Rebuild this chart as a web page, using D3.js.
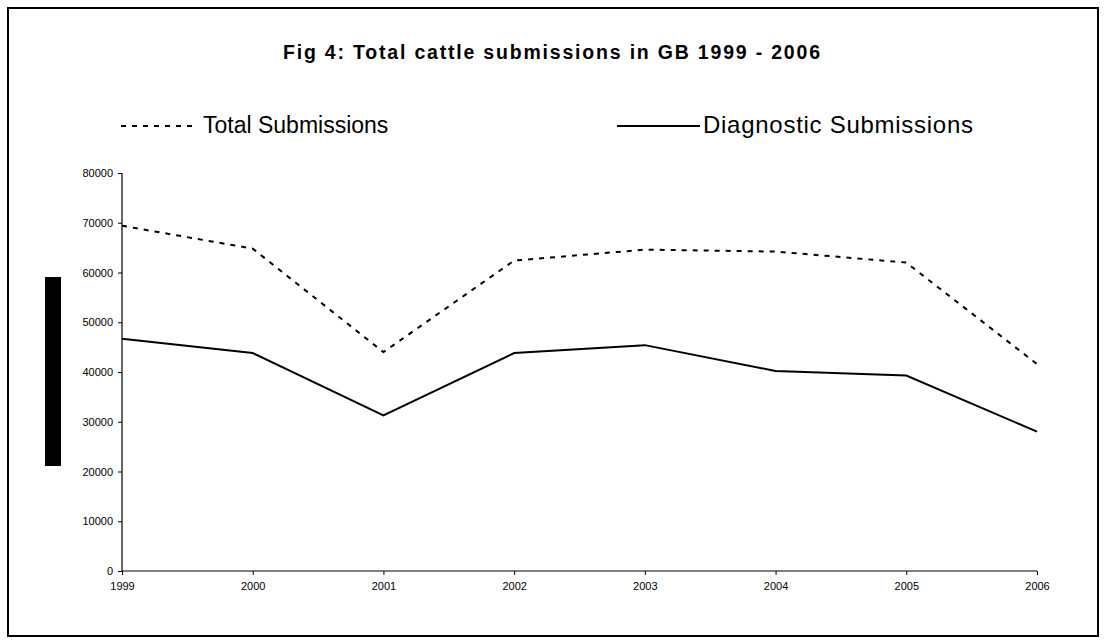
<!DOCTYPE html>
<html>
<head>
<meta charset="utf-8">
<script src="https://cdn.jsdelivr.net/npm/d3@7"></script>
<style>
  html, body { margin: 0; padding: 0; background: #fff; }
  svg { display: block; font-family: Arial, "Liberation Sans", sans-serif; }
</style>
</head>
<body>
<svg id="chart" width="1109" height="640"></svg>
<script>
const years = ["1999", "2000", "2001", "2002", "2003", "2004", "2005", "2006"];
const totalSubmissions = [69400, 64800, 44000, 62400, 64600, 64200, 62000, 41600];
const diagnosticSubmissions = [46700, 43800, 31300, 43800, 45400, 40200, 39300, 28000];
const yTicks = [0, 10000, 20000, 30000, 40000, 50000, 60000, 70000, 80000];
const titleText = "Fig 4: Total cattle submissions in GB 1999 - 2006";
const seriesNames = ["Total Submissions", "Diagnostic Submissions"];

const svg = d3.select("#chart");
const FONT = "Arial, 'Liberation Sans', sans-serif";

// outer frame
svg.append("rect")
  .attr("x", 8).attr("y", 8).attr("width", 1090).attr("height", 628)
  .attr("fill", "none").attr("stroke", "#000").attr("stroke-width", 2);

// title
svg.append("text")
  .attr("x", 283).attr("y", 59)
  .attr("font-weight", "bold")
  .attr("font-size", 19.5)
  .attr("textLength", 537)
  .attr("lengthAdjust", "spacing")
  .text(titleText);

const x = d3.scalePoint().domain(years).range([122, 1037]);
const y = d3.scaleLinear().domain([0, 80000]).range([571, 173]);

// axes
const yAxis = d3.axisLeft(y).tickValues(yTicks).tickSize(4).tickPadding(5).tickFormat(d3.format("d"));
const gy = svg.append("g").attr("transform", "translate(122,0)").call(yAxis);
gy.selectAll("text").attr("font-size", 11).attr("fill", "#000").attr("font-family", FONT);
gy.select(".domain").attr("d", `M0,${y(80000)}V${y(0)}`).attr("stroke-width", 1.2);

const xAxis = d3.axisBottom(x).tickSize(4).tickPadding(7);
const gx = svg.append("g").attr("transform", `translate(0,${y(0)})`).call(xAxis);
gx.selectAll("text").attr("font-size", 11).attr("fill", "#000").attr("font-family", FONT);
gx.select(".domain").attr("d", `M${x(years[0])},0H${x(years[years.length-1])}`).attr("stroke-width", 1.2);

// lines
const line = d3.line().x((d, i) => x(years[i])).y(d => y(d));
svg.append("path").datum(totalSubmissions)
  .attr("d", line).attr("fill", "none").attr("stroke", "#000")
  .attr("stroke-width", 2).attr("stroke-dasharray", "5,6");
svg.append("path").datum(diagnosticSubmissions)
  .attr("d", line).attr("fill", "none").attr("stroke", "#000")
  .attr("stroke-width", 2);

// black bar (y-axis title artifact)
svg.append("rect").attr("x", 45).attr("y", 277).attr("width", 16).attr("height", 189).attr("fill", "#000");

// legend
svg.append("line").attr("x1", 121).attr("x2", 197).attr("y1", 126).attr("y2", 126)
  .attr("stroke", "#000").attr("stroke-width", 2).attr("stroke-dasharray", "5,6");
svg.append("text").attr("x", 203).attr("y", 133).attr("font-size", 23).text(seriesNames[0]);
svg.append("line").attr("x1", 617).attr("x2", 700).attr("y1", 126).attr("y2", 126)
  .attr("stroke", "#000").attr("stroke-width", 2);
svg.append("text").attr("x", 703).attr("y", 133).attr("font-size", 24)
  .attr("textLength", 270).attr("lengthAdjust", "spacing").text(seriesNames[1]);
</script>
</body>
</html>
